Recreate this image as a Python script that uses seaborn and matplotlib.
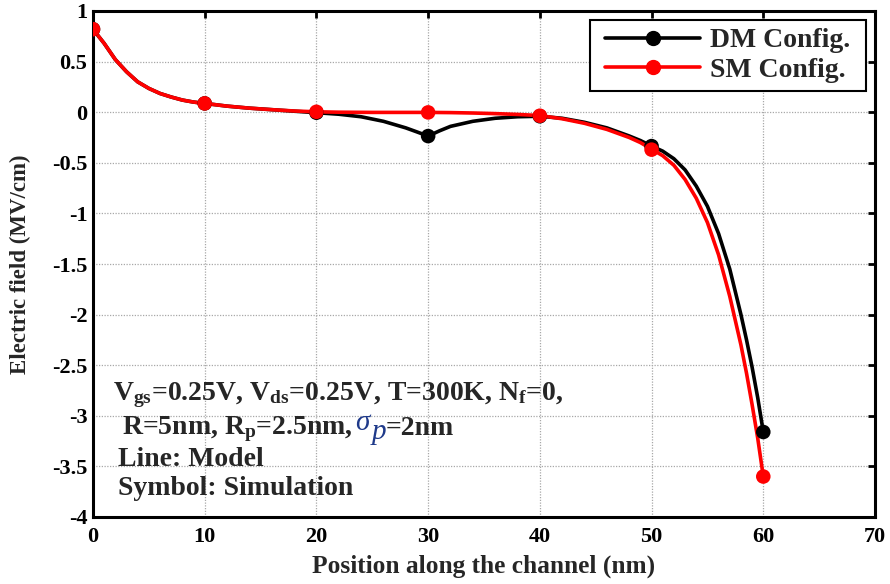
import matplotlib
matplotlib.use("Agg")
import matplotlib.pyplot as plt
import numpy as np
import pandas as pd
import seaborn as sns
from matplotlib.lines import Line2D
from matplotlib.legend_handler import HandlerLine2D
from matplotlib.ticker import FuncFormatter, FixedLocator

# Model curves (lines), position in nm
dm_model_x = [0, 1, 2, 3, 4, 5, 6, 7, 8, 9, 10, 12, 14, 16, 18, 20, 22, 24, 26, 28, 29, 30,
              31, 32, 34, 36, 38, 40, 42, 44, 46, 48, 49, 50, 51, 52, 53, 54, 55, 56, 57,
              58, 58.5, 59, 59.5, 60]
dm_model_e = [0.82, 0.68, 0.52, 0.40, 0.30, 0.235, 0.185, 0.15, 0.12, 0.10, 0.087, 0.06,
              0.04, 0.025, 0.01, -0.005, -0.02, -0.045, -0.09, -0.155, -0.195, -0.236,
              -0.185, -0.14, -0.09, -0.06, -0.045, -0.04, -0.06, -0.10, -0.155, -0.235,
              -0.28, -0.335, -0.385, -0.46, -0.57, -0.73, -0.93, -1.2, -1.55, -2.0,
              -2.25, -2.52, -2.82, -3.16]
sm_model_x = [0, 1, 2, 3, 4, 5, 6, 7, 8, 9, 10, 12, 14, 16, 18, 20, 22, 25, 28, 30, 32,
              34, 36, 38, 40, 42, 44, 46, 48, 49, 50, 51, 52, 53, 54, 55, 56, 57, 58, 58.5,
              59, 59.5, 60]
sm_model_e = [0.82, 0.68, 0.52, 0.40, 0.30, 0.235, 0.185, 0.15, 0.12, 0.10, 0.087, 0.06,
              0.04, 0.025, 0.012, 0.004, 0.0, -0.002, -0.002, -0.002, -0.004, -0.008,
              -0.014, -0.022, -0.033, -0.065, -0.11, -0.17, -0.25, -0.30, -0.365, -0.43,
              -0.525, -0.665, -0.85, -1.09, -1.41, -1.82, -2.3, -2.58, -2.89, -3.22, -3.6]

# Simulation points (symbols)
sim_x = [0, 10, 20, 30, 40, 50, 60]
dm_sim_e = [0.82, 0.087, -0.005, -0.236, -0.04, -0.335, -3.16]
sm_sim_e = [0.82, 0.087, 0.004, -0.002, -0.035, -0.37, -3.60]

config_names = ["DM Config.", "SM Config."]
config_colors = ["black", "red"]
x_ticks = [0, 10, 20, 30, 40, 50, 60, 70]
y_ticks = [1, 0.5, 0, -0.5, -1, -1.5, -2, -2.5, -3, -3.5, -4]

model_df = pd.concat([
    pd.DataFrame({"x": dm_model_x, "E": dm_model_e, "config": config_names[0]}),
    pd.DataFrame({"x": sm_model_x, "E": sm_model_e, "config": config_names[1]}),
], ignore_index=True)
sim_df = pd.concat([
    pd.DataFrame({"x": sim_x, "E": dm_sim_e, "config": config_names[0]}),
    pd.DataFrame({"x": sim_x, "E": sm_sim_e, "config": config_names[1]}),
], ignore_index=True)

sns.set_theme(style="white")
plt.rcParams["font.family"] = ["Liberation Serif", "DejaVu Serif"]
plt.rcParams["font.weight"] = "bold"
plt.rcParams["mathtext.fontset"] = "custom"
plt.rcParams["mathtext.rm"] = "Liberation Serif:bold"
plt.rcParams["mathtext.bf"] = "Liberation Serif:bold"
plt.rcParams["mathtext.it"] = "Liberation Serif:italic"
plt.rcParams["axes.unicode_minus"] = False

fig = plt.figure(figsize=(8.9, 5.84), dpi=100)
ax = fig.add_axes([93 / 890, (584 - 517) / 584, 782 / 890, 506 / 584])

palette = dict(zip(config_names, config_colors))
sns.lineplot(data=model_df, x="x", y="E", hue="config", palette=palette,
             hue_order=config_names, estimator=None, sort=False, linewidth=2.6,
             legend=False, ax=ax, zorder=3)
sns.scatterplot(data=sim_df, x="x", y="E", hue="config", palette=palette,
                hue_order=config_names, s=110, edgecolor="none", legend=False,
                ax=ax, zorder=4)

ax.set_xlim(0, 70)
ax.set_ylim(-4, 1)
ax.xaxis.set_major_locator(FixedLocator(x_ticks))
ax.yaxis.set_major_locator(FixedLocator(y_ticks))
ax.yaxis.set_major_formatter(FuncFormatter(lambda v, p: f"{v:g}"))
ax.xaxis.set_major_formatter(FuncFormatter(lambda v, p: f"{v:g}"))

ax.grid(True, linestyle=(0, (1, 1.2)), color="#a8a8a8", linewidth=0.9, zorder=0)
for sp in ax.spines.values():
    sp.set_visible(True)
    sp.set_color("black")
    sp.set_linewidth(2.2)
ax.tick_params(direction="in", length=5, width=2, top=True, right=True,
               labelsize=16, colors="black")
ax.tick_params(axis="x", pad=7)
ax.tick_params(axis="y", pad=4)
for lab in ax.get_xticklabels() + ax.get_yticklabels():
    lab.set_fontweight("bold")

ax.set_xlabel("Position along the channel (nm)", fontsize=18.3, fontweight="bold")
ax.set_ylabel("Electric field (MV/cm)", fontsize=16.5, fontweight="bold")
ax.xaxis.set_label_coords(0.5, -0.097)
ax.xaxis.label.set_va("center")
ax.yaxis.set_label_coords(-0.093, 0.5)
ax.yaxis.label.set_va("center")

handles = [Line2D([], [], color=c, lw=2.6, marker="o", markersize=10)
           for c in config_colors]
leg = ax.legend(handles, [n + " " for n in config_names], loc="upper right",
                bbox_to_anchor=(0.988, 0.983), borderaxespad=0, handlelength=3.67,
                handletextpad=0.35, borderpad=0.3, labelspacing=0.15, fancybox=False,
                framealpha=1, edgecolor="black", prop={"weight": "bold", "size": 20},
                handler_map={Line2D: HandlerLine2D(xpad=0.25)})
leg.get_frame().set_linewidth(1.5)

# Operating conditions block
fs = 20
ax.text(0.026, 0.232, r"V$_{\mathrm{gs}}$=0.25V, V$_{\mathrm{ds}}$=0.25V, T=300K, N$_{\mathrm{f}}$=0,",
        transform=ax.transAxes, fontsize=fs, fontweight="bold", va="baseline")
t2 = ax.text(0.037, 0.163, r"R=5nm, R$_{\mathrm{p}}$=2.5nm,",
             transform=ax.transAxes, fontsize=fs, fontweight="bold", va="baseline")
navy = "#1f3a8a"
t_sig = ax.annotate("σ", xy=(1, 0.163), xycoords=(t2, ax.transAxes), xytext=(2, 3),
                    textcoords="offset points", va="baseline", ha="left", fontsize=21,
                    fontstyle="italic", fontweight="normal", color=navy)
t_p = ax.annotate("p", xy=(1, 0.163), xycoords=(t_sig, ax.transAxes), xytext=(1, -3),
                  textcoords="offset points", va="baseline", ha="left", fontsize=21,
                  fontstyle="italic", fontweight="normal", color=navy)
ax.annotate("=2nm", xy=(1, 0.163), xycoords=(t_p, ax.transAxes), xytext=(0, 0),
            textcoords="offset points", va="baseline", ha="left", fontsize=fs,
            fontweight="bold")
ax.text(0.032, 0.100, "Line: Model", transform=ax.transAxes, fontsize=fs,
        fontweight="bold", va="baseline")
ax.text(0.032, 0.043, "Symbol: Simulation", transform=ax.transAxes, fontsize=fs,
        fontweight="bold", va="baseline")

fig.savefig("out.png", dpi=100)
